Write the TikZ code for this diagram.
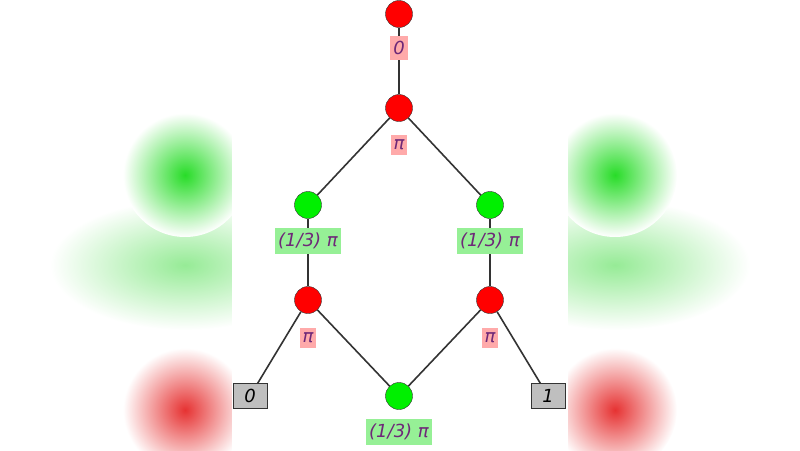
\documentclass[tikz,border=0pt]{standalone}
\usepackage{fontspec}
\setmainfont{DejaVu Sans}
\begin{document}
\begin{tikzpicture}[x=1pt,y=-1pt,
  rednode/.style={circle,draw=black!80,fill=red,minimum size=27pt,inner sep=0pt},
  grnnode/.style={circle,draw=black!80,fill={rgb,255:red,0;green,240;blue,0},minimum size=27pt,inner sep=0pt},
  boxnode/.style={draw=black!80,fill=black!25,minimum width=34pt,minimum height=25pt,inner sep=1pt,font=\fontsize{18}{20}\selectfont\itshape},
  plab/.style={fill={rgb,255:red,255;green,170;blue,170},text={rgb,255:red,110;green,40;blue,120},inner xsep=3pt,inner ysep=5pt,font=\fontsize{18}{20}\selectfont\itshape},
  glab/.style={fill={rgb,255:red,150;green,240;blue,150},text={rgb,255:red,110;green,40;blue,120},inner xsep=3pt,inner ysep=5pt,font=\fontsize{18}{20}\selectfont\itshape},
  edge/.style={draw=black!80,line width=1.6pt}]
\useasboundingbox (0,0) rectangle (800,450);
\foreach \cx in {185,615}{
  \shade[inner color={rgb,255:red,150;green,235;blue,150},outer color=white] (\cx,265) ellipse (135 and 65);
  \shade[inner color={rgb,255:red,40;green,220;blue,40},outer color=white] (\cx,175) circle (62);
  \shade[inner color={rgb,255:red,230;green,50;blue,50},outer color=white] (\cx,410) circle (62);
}
\fill[white] (232,0) rectangle (568,450);
\node[rednode] (r0) at (399,14) {};
\node[rednode] (r1) at (399,108) {};
\node[grnnode] (g1) at (308,205) {};
\node[grnnode] (g2) at (490,205) {};
\node[rednode] (r2) at (308,300) {};
\node[rednode] (r3) at (490,300) {};
\node[grnnode] (g3) at (399,396) {};
\node[boxnode] (b0) at (250,396) {0};
\node[boxnode] (b1) at (548,396) {1};
\draw[edge] (r0) -- (r1);
\draw[edge] (r1) -- (g1);
\draw[edge] (r1) -- (g2);
\draw[edge] (g1) -- (r2);
\draw[edge] (g2) -- (r3);
\draw[edge] (r2) -- (b0);
\draw[edge] (r2) -- (g3);
\draw[edge] (r3) -- (g3);
\draw[edge] (r3) -- (b1);
\node[plab] (l0) at (399,48) {0};
\node[plab] (l1) at (399,145) {π};
\node[glab] (l2) at (308,241) {(1/3) π};
\node[glab] (l3) at (490,241) {(1/3) π};
\node[plab] (l4) at (308,338) {π};
\node[plab] (l5) at (490,338) {π};
\node[glab] (l6) at (399,432) {(1/3) π};
\end{tikzpicture}
\end{document}
